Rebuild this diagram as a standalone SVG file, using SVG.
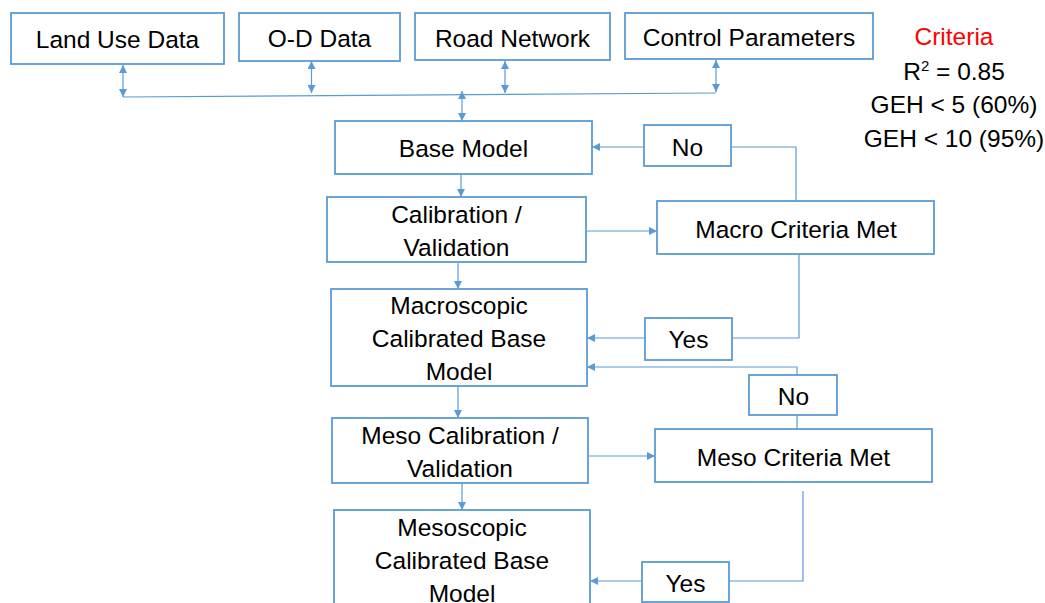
<svg xmlns="http://www.w3.org/2000/svg" width="1045" height="603" viewBox="0 0 1045 603">
<style>
.box{fill:#fff;stroke:#5B9BD5;stroke-width:1.8}
.t{font-family:"Liberation Sans",Arial,sans-serif;font-size:24.5px;fill:#000;text-anchor:middle}
.c{fill:none;stroke:#5B9BD5;stroke-width:1.2}
.a{marker-end:url(#ah)}
.d{marker-start:url(#ah);marker-end:url(#ah)}
</style>
<defs>
<marker id="ah" viewBox="0 0 10 10" refX="10" refY="5" markerWidth="9" markerHeight="8" markerUnits="userSpaceOnUse" orient="auto-start-reverse">
<path d="M0,0 L10,5 L0,10 z" fill="#5B9BD5"/>
</marker>
</defs>
<rect width="1045" height="603" fill="#fff"/>
<g id="connectors">
<line class="c d" x1="123" y1="65" x2="123" y2="97"/>
<line class="c d" x1="311.5" y1="61" x2="311.5" y2="93"/>
<line class="c d" x1="505" y1="61" x2="505" y2="93"/>
<line class="c d" x1="716" y1="60" x2="716" y2="92"/>
<line class="c" x1="123" y1="97" x2="716" y2="93"/>
<line class="c d" x1="462" y1="91" x2="462" y2="121"/>
<line class="c a" x1="461" y1="174" x2="461" y2="197"/>
<line class="c a" x1="458" y1="263" x2="458" y2="289"/>
<line class="c a" x1="458" y1="387" x2="458" y2="418"/>
<line class="c a" x1="462" y1="483" x2="462" y2="510"/>
<line class="c a" x1="586" y1="231" x2="657" y2="231"/>
<line class="c a" x1="644" y1="147" x2="592" y2="147"/>
<polyline class="c" points="731,147 796,147 796,201"/>
<polyline class="c" points="799,248 799,338 732,338"/>
<line class="c a" x1="645" y1="338" x2="587" y2="338"/>
<polyline class="c a" points="797,375 797,367 587,367"/>
<line class="c" x1="797" y1="415" x2="797" y2="429"/>
<line class="c a" x1="588" y1="456" x2="655" y2="456"/>
<polyline class="c" points="803,491 803,581 729,581"/>
<line class="c a" x1="642" y1="581" x2="590" y2="581"/>
</g>
<g id="land-use"><rect class="box" x="11" y="13" width="213" height="51"/><text class="t" x="117.5" y="48">Land Use Data</text></g>
<g id="od-data"><rect class="box" x="239" y="13" width="161" height="48"/><text class="t" x="319.5" y="47">O-D Data</text></g>
<g id="road-network"><rect class="box" x="415" y="13" width="195" height="47"/><text class="t" x="512.5" y="47">Road Network</text></g>
<g id="control-parameters"><rect class="box" x="625" y="13" width="248" height="46"/><text class="t" x="749" y="46">Control Parameters</text></g>
<g id="criteria">
<text class="t" x="954" y="45" fill="#FF0000" style="fill:#FF0000">Criteria</text>
<text class="t" x="954" y="80">R<tspan dy="-9" font-size="15">2</tspan><tspan dy="9"> = 0.85</tspan></text>
<text class="t" x="954" y="113">GEH &lt; 5 (60%)</text>
<text class="t" x="954" y="147">GEH &lt; 10 (95%)</text>
</g>
<g id="base-model"><rect class="box" x="335" y="121" width="257" height="53"/><text class="t" x="463.5" y="157">Base Model</text></g>
<g id="no-1"><rect class="box" x="644" y="125" width="87" height="41"/><text class="t" x="687.5" y="156">No</text></g>
<g id="calibration"><rect class="box" x="327" y="197" width="259" height="65"/><text class="t" x="456.5" y="223">Calibration /</text><text class="t" x="456.5" y="256">Validation</text></g>
<g id="macro-criteria"><rect class="box" x="657" y="201" width="277" height="53"/><text class="t" x="796" y="238">Macro Criteria Met</text></g>
<g id="macroscopic"><rect class="box" x="331" y="289" width="256" height="97"/><text class="t" x="459" y="314">Macroscopic</text><text class="t" x="459" y="347">Calibrated Base</text><text class="t" x="459" y="380">Model</text></g>
<g id="yes-1"><rect class="box" x="645" y="318" width="87" height="42"/><text class="t" x="688.5" y="348">Yes</text></g>
<g id="no-2"><rect class="box" x="749" y="375" width="88" height="40"/><text class="t" x="793.5" y="405">No</text></g>
<g id="meso-calibration"><rect class="box" x="332" y="418" width="256" height="65"/><text class="t" x="460" y="444">Meso Calibration /</text><text class="t" x="460" y="477">Validation</text></g>
<g id="meso-criteria"><rect class="box" x="655" y="429" width="277" height="53"/><text class="t" x="793.5" y="466">Meso Criteria Met</text></g>
<g id="mesoscopic"><rect class="box" x="334" y="510" width="256" height="100"/><text class="t" x="462" y="536">Mesoscopic</text><text class="t" x="462" y="569">Calibrated Base</text><text class="t" x="462" y="602">Model</text></g>
<g id="yes-2"><rect class="box" x="642" y="562" width="87" height="40"/><text class="t" x="685.5" y="592">Yes</text></g>
</svg>
